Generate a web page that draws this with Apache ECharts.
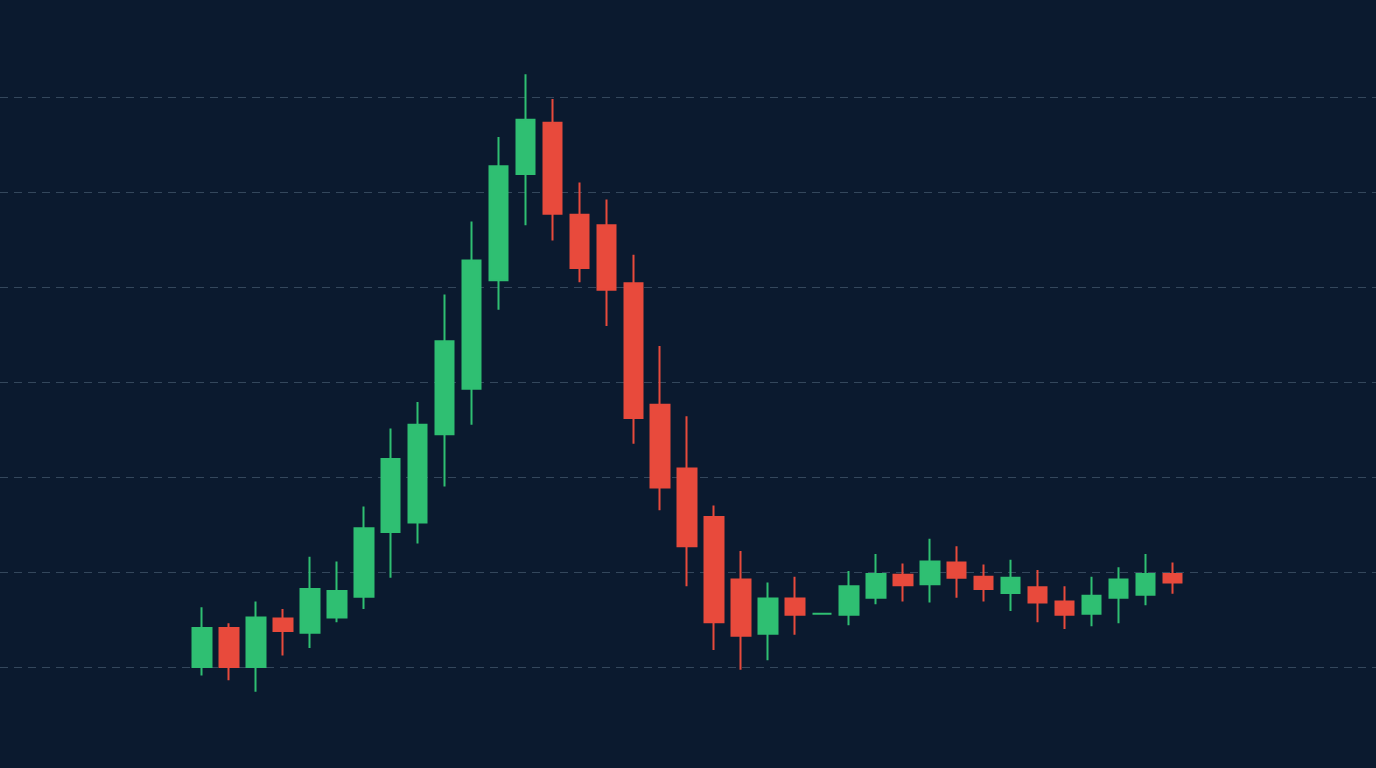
<!DOCTYPE html>
<html>
<head>
<meta charset="utf-8">
<title>Candlestick</title>
<script src="https://cdn.jsdelivr.net/npm/echarts@6/dist/echarts.min.js"></script>
<style>
  html, body { margin: 0; padding: 0; background: #0b1a2f; }
  #chart { width: 1376px; height: 768px; }
</style>
</head>
<body>
<div id="chart"></div>
<script>
const days = [
  'D01', 'D02', 'D03', 'D04', 'D05', 'D06', 'D07', 'D08', 'D09', 'D10',
  'D11', 'D12', 'D13', 'D14', 'D15', 'D16', 'D17', 'D18', 'D19', 'D20',
  'D21', 'D22', 'D23', 'D24', 'D25', 'D26', 'D27', 'D28', 'D29', 'D30',
  'D31', 'D32', 'D33', 'D34', 'D35', 'D36', 'D37'
]
const opens = [
  100.0, 104.1, 100.0, 105.1, 103.6, 105.2, 107.4, 114.2, 115.2, 124.5,
  129.3, 140.7, 151.9, 157.3, 147.6, 146.5, 140.4, 127.6, 120.9, 115.8,
  109.2, 103.5, 107.2, 105.6, 105.5, 107.3, 109.7, 108.7, 111.0, 109.5,
  107.8, 108.4, 106.9, 105.6, 107.3, 107.6, 109.8
]
const closes = [
  104.1, 100.0, 105.2, 103.8, 108.2, 108.0, 114.6, 121.9, 125.5, 134.3,
  142.8, 152.7, 157.6, 147.7, 142.0, 139.7, 126.2, 118.9, 112.7, 104.7,
  103.3, 107.2, 105.5, 105.6, 108.5, 109.8, 108.6, 111.1, 109.4, 108.2,
  109.4, 106.8, 105.5, 107.5, 109.2, 109.8, 108.9
]
const lows = [
  99.1, 98.6, 97.4, 101.2, 102.0, 104.7, 106.1, 109.4, 113.0, 119.0,
  125.5, 137.6, 146.5, 144.9, 140.5, 135.9, 123.5, 116.5, 108.5, 101.8,
  99.7, 100.7, 103.4, 105.6, 104.4, 106.6, 106.9, 106.8, 107.3, 106.9,
  105.9, 104.7, 104.0, 104.3, 104.6, 106.5, 107.7
]
const highs = [
  106.3, 104.6, 106.9, 106.1, 111.6, 111.1, 116.9, 125.1, 127.9, 139.2,
  146.9, 155.8, 162.4, 159.8, 151.0, 149.2, 143.4, 133.8, 126.4, 117.0,
  112.2, 108.9, 109.5, 105.6, 110.1, 111.9, 110.9, 113.5, 112.7, 110.8,
  111.3, 110.2, 108.5, 109.5, 110.5, 111.9, 111.0
]

const upColor = '#2fbf72'
const downColor = '#e84a3c'

const kData = days.map((d, i) => [opens[i], closes[i], lows[i], highs[i]])

const chart = echarts.init(document.getElementById('chart'))
chart.setOption({
  backgroundColor: '#0b1a2f',
  animation: false,
  grid: [
    // full width grid just for the dashed price lines
    { left: 0, right: 0, top: 2, bottom: 6 },
    { left: 188.6, right: 190.2, top: 2, bottom: 6 }
  ],
  xAxis: [
    { gridIndex: 0, type: 'value', min: 0, max: 1, show: false },
    {
      gridIndex: 1,
      type: 'category',
      data: days,
      show: false
    }
  ],
  yAxis: [
    {
      gridIndex: 0,
      type: 'value',
      min: 90,
      max: 170,
      interval: 10,
      axisLine: { show: false },
      axisTick: { show: false },
      axisLabel: { show: false },
      splitLine: {
        show: true,
        showMinLine: false,
        showMaxLine: false,
        lineStyle: { color: '#34475c', width: 1, type: [8, 6] }
      }
    },
    {
      gridIndex: 1,
      type: 'value',
      min: 90,
      max: 170,
      show: false,
      splitLine: { show: false }
    }
  ],
  series: [
    {
      type: 'candlestick',
      xAxisIndex: 1,
      yAxisIndex: 1,
      barWidth: 19,
      data: kData,
      itemStyle: {
        color: upColor,
        color0: downColor,
        borderColor: upColor,
        borderColor0: downColor,
        borderWidth: 2
      }
    }
  ]
})
</script>
</body>
</html>
